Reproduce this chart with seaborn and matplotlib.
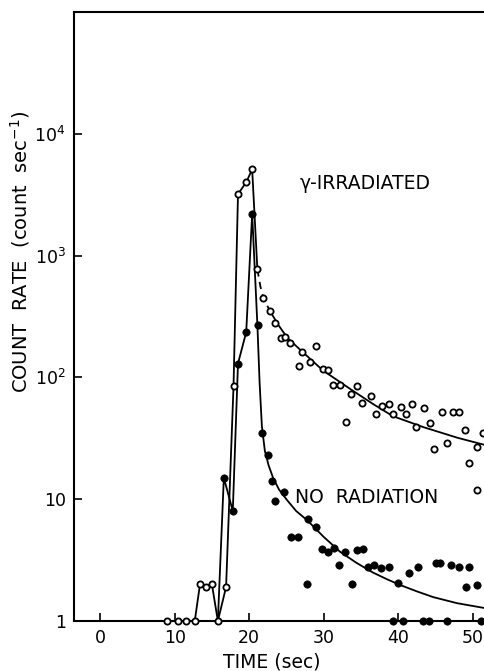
import matplotlib
matplotlib.use("Agg")
import matplotlib.pyplot as plt
import seaborn as sns
import pandas as pd
import numpy as np

sns.set_theme(style="ticks")
plt.rcParams['font.family'] = ['DejaVu Sans']
for k in ["text.color", "axes.labelcolor", "xtick.color", "ytick.color", "axes.edgecolor"]:
    plt.rcParams[k] = "black"

# ---- data ----
# gamma-irradiated: rising part (connected by a line)
gamma_rise_t = [9.0, 10.4, 11.5, 12.7, 13.4, 14.2, 15.0, 15.8, 16.9, 17.9, 18.5, 19.6, 20.4, 21.1]
gamma_rise_v = [1, 1, 1, 1, 2.0, 1.9, 2.0, 1, 1.9, 85, 3200, 4000, 5100, 770]
# gamma-irradiated: decay points (open circles only)
gamma_decay_t = [21.9, 22.8, 23.4, 24.3, 24.8, 25.5, 26.7, 27.1, 28.1, 29.0, 29.9, 30.6,
                 31.3, 32.2, 33.0, 33.6, 34.5, 35.2, 36.4, 37.0, 37.8, 38.7, 39.3, 40.3,
                 41.1, 41.9, 42.4, 43.4, 44.2, 44.8, 45.8, 46.6, 47.4, 48.2, 49.0, 49.5,
                 50.5, 50.5, 51.3]
gamma_decay_v = [450, 350, 280, 210, 213, 190, 125, 163, 133, 180, 118, 116,
                 86, 87, 43, 73, 85, 62, 71, 50, 58, 61, 50, 57,
                 50, 61, 39, 56, 42, 26, 52, 29, 52, 52, 37, 20,
                 27, 12, 35]
# gamma fitted curve (dashed near the peak, solid after)
gamma_fit_dash_t = [21.1, 21.5, 21.9, 22.4, 22.8]
gamma_fit_dash_v = [770, 560, 450, 390, 350]
gamma_fit_t = [22.8, 23.9, 25.1, 27.1, 29.9, 33.6, 36.7, 39.3, 43.4, 47.9, 51.5]
gamma_fit_v = [350, 270, 212, 163, 114, 80, 60, 48, 39, 32, 28]

# no radiation: rising part (connected by a line)
norad_rise_t = [15.8, 16.6, 17.8, 18.5, 19.6, 20.4, 21.1]
norad_rise_v = [1, 15, 8, 130, 235, 2200, 270]
# no radiation: all filled points
norad_t = [16.6, 17.8, 18.5, 19.6, 20.4, 21.2, 21.7, 22.5, 23.1, 23.4, 24.7, 25.6, 26.6,
           27.7, 27.9, 29.0, 29.8, 30.6, 31.4, 32.1, 32.9, 33.8, 34.5, 35.3, 36.0,
           36.8, 37.7, 38.7, 39.3, 40.0, 40.6, 41.5, 42.7, 43.3, 44.1, 45.1, 45.6,
           46.6, 47.1, 48.2, 49.1, 49.5, 50.6, 51.1]
norad_v = [15, 8, 130, 235, 2200, 270, 35, 23, 14, 9.6, 11.4, 4.9, 4.9,
           2.0, 6.9, 5.9, 3.9, 3.7, 4.0, 2.9, 3.7, 2.0, 3.8, 3.9, 2.8,
           2.9, 2.7, 2.8, 1.0, 2.05, 1.0, 2.5, 2.8, 1.0, 1.0, 3.0, 3.0,
           1.0, 2.9, 2.8, 1.9, 2.8, 1.97, 1.0]
# no radiation fitted curve
norad_fit_t = [21.1, 21.4, 21.7, 22.1, 22.6, 23.2, 24.0, 25.1, 26.3, 27.8, 30.0, 32.2,
               34.4, 36.6, 38.5, 40.3, 42.5, 44.7, 47.9, 51.5]
norad_fit_v = [270, 90, 40, 25, 19, 15, 12, 9.8, 8.0, 6.7, 4.9, 3.7,
               3.0, 2.5, 2.2, 1.97, 1.75, 1.57, 1.4, 1.28]

x_ticks = [0, 10, 20, 30, 40, 50]
y_ticks = [1, 10, 100, 1000, 10000]
y_ticklabels = ["1", "10", r"$10^{2}$", r"$10^{3}$", r"$10^{4}$"]

# ---- figure ----
fig = plt.figure(figsize=(4.84, 6.71), dpi=100)
ax = fig.add_axes([74/484, 50/671, (484-74)/484, 609/671])
ax.set_yscale("log")

lw = 1.3
def line(t, v, **kw):
    sns.lineplot(x=t, y=v, ax=ax, estimator=None, sort=False, color="black",
                 linewidth=lw, legend=False, **kw)

line(gamma_rise_t, gamma_rise_v)
line(norad_rise_t, norad_rise_v)
line(gamma_fit_dash_t, gamma_fit_dash_v, dashes=(4, 3))
line(gamma_fit_t, gamma_fit_v)
line(norad_fit_t, norad_fit_v)

sns.scatterplot(x=norad_t, y=norad_v, ax=ax, color="black", s=28, marker="o",
                edgecolor="black", linewidth=0.5, clip_on=False, zorder=5)
sns.scatterplot(x=gamma_rise_t + gamma_decay_t, y=gamma_rise_v + gamma_decay_v, ax=ax,
                facecolor="white", edgecolor="black", s=20, marker="o",
                linewidth=1.3, clip_on=False, zorder=6)

ax.set_xlim(-3.5, 51.5)
ax.set_ylim(1, 1e5)
ax.set_xticks(x_ticks)
ax.set_xticklabels([str(x) for x in x_ticks])
ax.set_yticks(y_ticks)
ax.set_yticklabels(y_ticklabels)
ax.yaxis.set_minor_locator(matplotlib.ticker.NullLocator())
ax.tick_params(direction="in", length=6, width=1.2, labelsize=12.5, colors="black", pad=6)

for s in ["left", "bottom", "top"]:
    ax.spines[s].set_linewidth(1.5)
    ax.spines[s].set_color("black")
ax.spines["right"].set_visible(False)

ax.set_xlabel("TIME (sec)", fontsize=13.5)
ax.xaxis.set_label_coords((272 - 74) / 410, -31 / 609)
ax.set_ylabel(r"COUNT  RATE  (count  sec$^{-1}$)", fontsize=14)
ax.yaxis.set_label_coords((32 - 74) / 410, (621 - 252) / 609)

ax.text(26.8, 3900, "γ-IRRADIATED", fontsize=13.5, va="center", ha="left")
ax.text(26.2, 10.4, "NO  RADIATION", fontsize=13.5, va="center", ha="left")

fig.savefig("out.png", dpi=100, facecolor="white")
